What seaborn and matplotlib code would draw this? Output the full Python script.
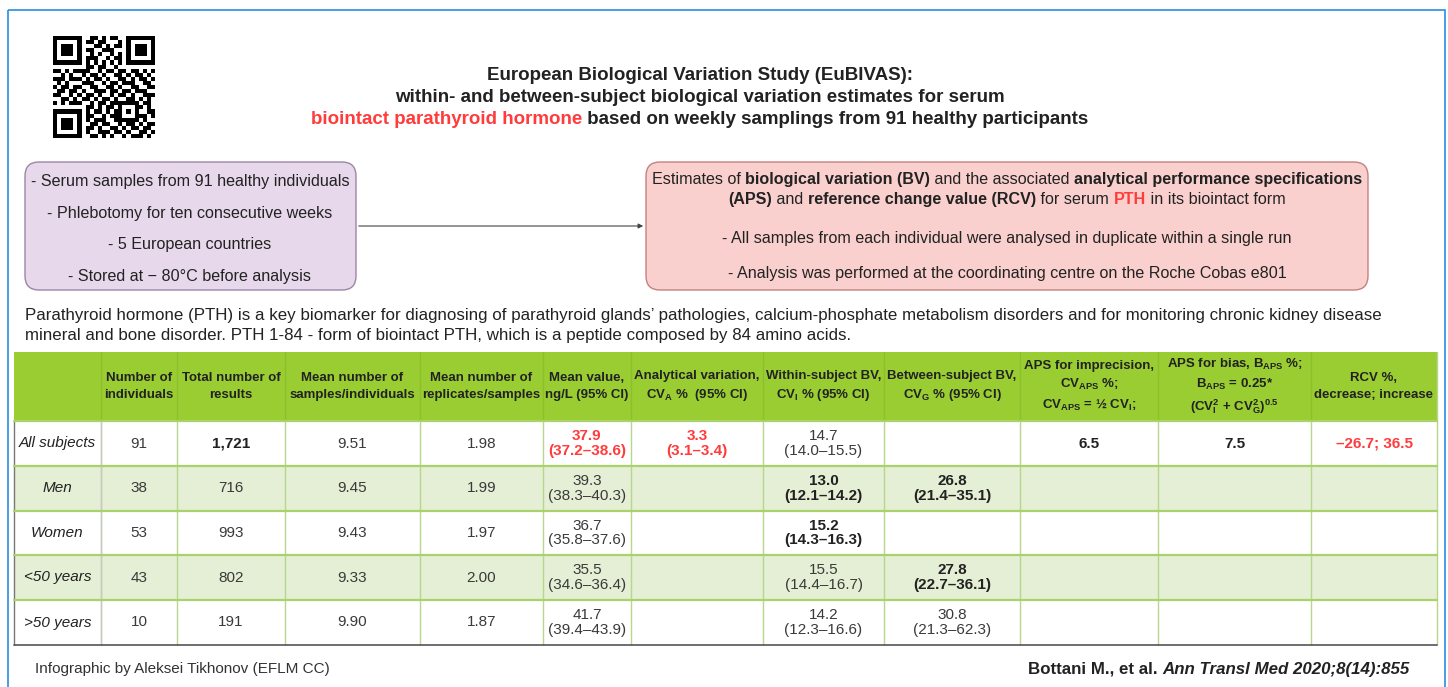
import numpy as np
import pandas as pd
import matplotlib.pyplot as plt
import seaborn as sns
from matplotlib.patches import FancyBboxPatch, Rectangle

groups = ["All subjects", "Men", "Women", "<50 years", ">50 years"]
n_individuals = [91, 38, 53, 43, 10]
n_results = [1721, 716, 993, 802, 191]
mean_samples = [9.51, 9.45, 9.43, 9.33, 9.90]
mean_replicates = [1.98, 1.99, 1.97, 2.00, 1.87]
mean_value = [37.9, 39.3, 36.7, 35.5, 41.7]
mean_lo = [37.2, 38.3, 35.8, 34.6, 39.4]
mean_hi = [38.6, 40.3, 37.6, 36.4, 43.9]
cva = [3.3, None, None, None, None]
cva_lo = [3.1, None, None, None, None]
cva_hi = [3.4, None, None, None, None]
cvi = [14.7, 13.0, 15.2, 15.5, 14.2]
cvi_lo = [14.0, 12.1, 14.3, 14.4, 12.3]
cvi_hi = [15.5, 14.2, 16.3, 16.7, 16.6]
cvg = [None, 26.8, None, 27.8, 30.8]
cvg_lo = [None, 21.4, None, 22.7, 21.3]
cvg_hi = [None, 35.1, None, 36.1, 62.3]
aps_imprecision = [6.5, None, None, None, None]
aps_bias = [7.5, None, None, None, None]
rcv_decrease = [-26.7, None, None, None, None]
rcv_increase = [36.5, None, None, None, None]

headers = [
    "",
    "Number of\nindividuals",
    "Total number of\nresults",
    "Mean number of\nsamples/individuals",
    "Mean number of\nreplicates/samples",
    "Mean value,\nng/L (95% CI)",
    "Analytical variation,\nCV$_{A}$ %  (95% CI)",
    "Within-subject BV,\nCV$_{I}$ % (95% CI)",
    "Between-subject BV,\nCV$_{G}$ % (95% CI)",
    "APS for imprecision,\nCV$_{APS}$ %;\nCV$_{APS}$ = ½ CV$_{I}$;",
    "APS for bias, B$_{APS}$ %;\nB$_{APS}$ = 0.25*\n(CV$_{I}^{2}$ + CV$_{G}^{2}$)$^{0.5}$",
    "RCV %,\ndecrease; increase",
]

# cell styles (row index, column name)
bold_cells = {(0, "results"), (1, "cvi"), (1, "cvg"), (2, "cvi"), (3, "cvg"),
              (0, "aps_imp"), (0, "aps_bias")}
red_cells = {(0, "mean"), (0, "cva"), (0, "rcv")}


def ci(v, lo, hi):
    if v is None:
        return ""
    return f"{v:.1f}\n({lo:.1f}–{hi:.1f})"


def opt(v):
    return "" if v is None else f"{v:.1f}"


table = pd.DataFrame({
    "group": groups,
    "n": [str(v) for v in n_individuals],
    "results": [f"{v:,}" for v in n_results],
    "samples": [f"{v:.2f}" for v in mean_samples],
    "replicates": [f"{v:.2f}" for v in mean_replicates],
    "mean": [ci(*t) for t in zip(mean_value, mean_lo, mean_hi)],
    "cva": [ci(*t) for t in zip(cva, cva_lo, cva_hi)],
    "cvi": [ci(*t) for t in zip(cvi, cvi_lo, cvi_hi)],
    "cvg": [ci(*t) for t in zip(cvg, cvg_lo, cvg_hi)],
    "aps_imp": [opt(v) for v in aps_imprecision],
    "aps_bias": [opt(v) for v in aps_bias],
    "rcv": ["" if d is None else f"–{abs(d):.1f}; {i:.1f}"
            for d, i in zip(rcv_decrease, rcv_increase)],
})

# decorative QR code (hand drawn pattern)
qr_rows = [
    "1111111" + "00110101100" + "1111111",
    "1000001" + "01101100010" + "1000001",
    "1011101" + "00011010110" + "1011101",
    "1011101" + "01100111000" + "1011101",
    "1011101" + "00101001010" + "1011101",
    "1000001" + "01110010110" + "1000001",
    "1111111" + "01010101010" + "1111111",
    "0000000" + "01101100100" + "0000000",
    "1101011" + "11001011011" + "0110101",
    "0010100" + "10110100110" + "1011010",
    "1110111" + "01011010011" + "0101101",
    "0101000" + "11100101101" + "1100110",
    "1011011" + "00110011010" + "0110011",
    "0110110" + "10011101101" + "1011100",
    "1100101" + "01101001011" + "0100111",
    "0011010" + "11010110100" + "1101010",
    "1010111" + "001011011" + "11" + "111" + "0110",
    "0000000" + "011010110" + "10" + "001" + "1010",
    "1111111" + "010110101" + "10" + "101" + "0011",
    "1000001" + "011001011" + "10" + "001" + "1101",
    "1011101" + "010111001" + "11" + "111" + "0100",
    "1011101" + "001101100" + "10" + "110" + "1011",
    "1011101" + "011010011" + "01" + "011" + "0110",
    "1000001" + "010011101" + "10" + "100" + "1101",
    "1111111" + "001101010" + "01" + "011" + "1010",
]
qr = np.array([[int(c) for c in r] for r in qr_rows])

# ---- styling ----
sns.set_theme(style="white")
plt.rcParams["font.family"] = ["Liberation Sans", "DejaVu Sans"]
plt.rcParams["mathtext.fontset"] = "custom"
plt.rcParams["mathtext.rm"] = "Liberation Sans"
plt.rcParams["mathtext.bf"] = "Liberation Sans:bold"
plt.rcParams["mathtext.it"] = "Liberation Sans:italic"
plt.rcParams["mathtext.default"] = "bf"

RED = "#ff3b3b"
DARK = "#222222"
GREY = "#3a3a3a"

W, H = 1448, 687
fig = plt.figure(figsize=(W / 100, H / 100), dpi=100)
ax = fig.add_axes([0, 0, 1, 1])
ax.set_xlim(0, W)
ax.set_ylim(H, 0)
ax.axis("off")
renderer = fig.canvas.get_renderer()


def rich(x, y, parts, size, ha="center"):
    """Draw a line made of differently styled pieces."""
    pieces = []
    for s, kw in parts:
        t = ax.text(0, y, s, fontsize=size, va="center_baseline", ha="left",
                    color=kw.pop("color", DARK), **kw)
        pieces.append((t, t.get_window_extent(renderer).width))
    total = sum(w for _, w in pieces)
    if ha == "center":
        pos = x - total / 2
    elif ha == "right":
        pos = x - total
    else:
        pos = x
    for t, w in pieces:
        t.set_x(pos)
        pos += w


B = {"fontweight": "bold"}
R = {}

# outer frame
ax.add_patch(Rectangle((8, 10), 1437, 700, fill=False, ec="#2b8ee0", lw=1.2))

# QR code
qr_ax = fig.add_axes([53 / W, 1 - 138 / H, 102 / W, 102 / H])
sns.heatmap(qr, cmap=["white", "black"], cbar=False, ax=qr_ax,
            xticklabels=False, yticklabels=False)
qr_ax.axis("off")

# title
rich(700, 74, [("European Biological Variation Study (EuBIVAS):", dict(B))], 13.5)
rich(700, 96, [("within- and between-subject biological variation estimates for serum", dict(B))], 13.5)
rich(700, 118, [("biointact parathyroid hormone", dict(B, color=RED)),
                (" based on weekly samplings from 91 healthy participants", dict(B))], 13.5)

# flow boxes
ax.add_patch(FancyBboxPatch((25, 162), 331, 128, boxstyle="round,pad=0,rounding_size=14",
                            fc="#e7d8eb", ec="#9c86a6", lw=1))
ax.add_patch(FancyBboxPatch((646, 162), 722, 128, boxstyle="round,pad=0,rounding_size=14",
                            fc="#f9d0ce", ec="#c4827e", lw=1))
ax.annotate("", xy=(646, 226), xytext=(356, 226),
            arrowprops=dict(arrowstyle="-|>", color="#444444", lw=0.8, mutation_scale=7))

left_lines = ["- Serum samples from 91 healthy individuals",
              "- Phlebotomy for ten consecutive weeks",
              "- 5 European countries",
              "- Stored at − 80°C before analysis"]
for y, s in zip([180, 212, 243, 275], left_lines):
    rich(190, y, [(s, dict(R))], 11.6)

rich(1007, 178, [("Estimates of ", dict(R)), ("biological variation (BV)", dict(B)),
                 (" and the associated ", dict(R)),
                 ("analytical performance specifications", dict(B))], 11.6)
rich(1007, 198, [("(APS)", dict(B)), (" and ", dict(R)),
                 ("reference change value (RCV)", dict(B)), (" for serum ", dict(R)),
                 ("PTH", dict(B, color=RED)), (" in its biointact form", dict(R))], 11.6)
rich(1007, 237, [("- All samples from each individual were analysed in duplicate within a single run", dict(R))], 11.6)
rich(1007, 272, [("- Analysis was performed at the coordinating centre on the Roche Cobas e801", dict(R))], 11.6)

# description
rich(25, 314, [("Parathyroid hormone (PTH) is a key biomarker for diagnosing of parathyroid glands’ "
                "pathologies, calcium-phosphate metabolism disorders and for monitoring chronic kidney disease",
                dict(R))], 12.2, ha="left")
rich(25, 334, [("mineral and bone disorder. PTH 1-84 - form of biointact PTH, which is a peptide "
                "composed by 84 amino acids.", dict(R))], 12.2, ha="left")

# ---- table ----
col_edges = [14, 101, 177, 285, 420, 543, 631, 763, 884, 1020, 1158, 1311, 1437]
row_edges = [352, 421, 466, 511, 555, 600, 645]
x0, x1 = col_edges[0], col_edges[-1]

ax.add_patch(Rectangle((x0, row_edges[0]), x1 - x0, row_edges[1] - row_edges[0],
                       fc="#9acd32", ec="none"))
for i in range(len(groups)):
    fc = "white" if i % 2 == 0 else "#e4efd5"
    ax.add_patch(Rectangle((x0, row_edges[i + 1]), x1 - x0,
                           row_edges[i + 2] - row_edges[i + 1], fc=fc, ec="none"))

for xe in col_edges[1:-1]:
    ax.plot([xe, xe], [row_edges[0], row_edges[1]], color="#8cbf2a", lw=1)
    ax.plot([xe, xe], [row_edges[1], row_edges[-1]], color="#b7d88c", lw=1)
ax.plot([col_edges[1]] * 2, [row_edges[1], row_edges[-1]], color="#c8c8c8", lw=1)
ax.plot([x0, x0], [row_edges[1], row_edges[-1]], color="#777777", lw=1)
ax.plot([x1, x1], [row_edges[0], row_edges[-1]], color="#b7d88c", lw=1)
for ye in row_edges[1:-1]:
    ax.plot([x0, x1], [ye, ye], color="#a9d26a", lw=1.6)
ax.plot([x0, x1], [row_edges[-1], row_edges[-1]], color="#555555", lw=1.2)

col_cx = [(a + b) / 2 for a, b in zip(col_edges[:-1], col_edges[1:])]
head_cy = (row_edges[0] + row_edges[1]) / 2
for cx, h in zip(col_cx, headers):
    ax.text(cx, head_cy, h, ha="center", va="center", fontsize=9.5,
            fontweight="bold", color=DARK, linespacing=1.45)

for i, row in table.iterrows():
    cy = (row_edges[i + 1] + row_edges[i + 2]) / 2
    for j, col in enumerate(table.columns):
        s = row[col]
        if not s:
            continue
        kw = dict(ha="center", va="center", fontsize=11, color=GREY, linespacing=1.05)
        if col == "group":
            kw["fontstyle"] = "italic"
            kw["color"] = DARK
        if (i, col) in bold_cells:
            kw["fontweight"] = "bold"
            kw["color"] = DARK
        if (i, col) in red_cells:
            kw["fontweight"] = "bold"
            kw["color"] = RED
        ax.text(col_cx[j], cy, s, **kw)

# footer
rich(35, 668, [("Infographic by Aleksei Tikhonov (EFLM CC)", dict(R, color="#333333"))], 11, ha="left")
rich(1410, 668, [("Bottani M., et al. ", dict(B)),
                 ("Ann Transl Med 2020;8(14):855", dict(B, fontstyle="italic"))], 12.2, ha="right")

fig.savefig("out.png", dpi=100)
